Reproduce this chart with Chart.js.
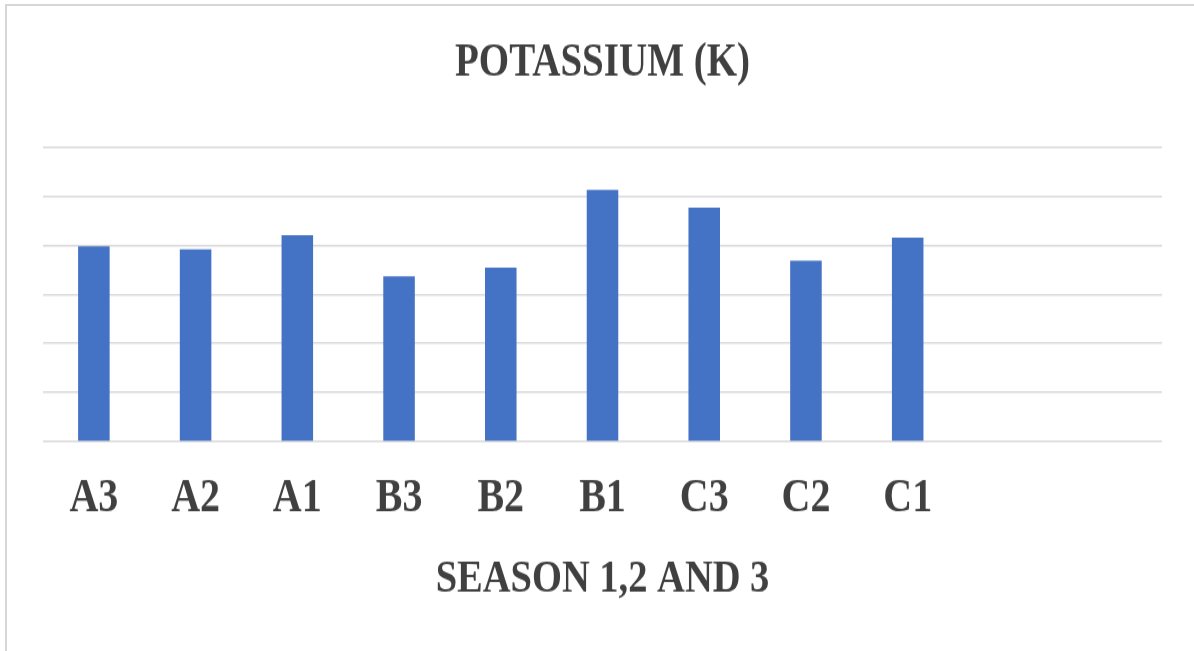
<!DOCTYPE html>
<html>
<head>
<meta charset="utf-8">
<title>Potassium (K)</title>
<script src="https://cdn.jsdelivr.net/npm/chart.js@4"></script>
<style>
  html, body { margin: 0; padding: 0; background: #fff; }
  #page { position: relative; width: 1194px; height: 651px; overflow: hidden; }
  #frame {
    position: absolute; left: 5px; top: 4px; width: 1200px; height: 660px;
    border-left: 2px solid #d6d6d6; border-top: 2px solid #d6d6d6;
  }
  /* the original picture is stretched vertically, so the chart is drawn squat and scaled */
  #wrap { position: absolute; left: 0; top: 0; width: 1194px; height: 543px;
          transform: scaleY(1.2); transform-origin: 0 0; }
</style>
</head>
<body>
<div id="page">
  <div id="frame"></div>
  <div id="wrap"><canvas id="kChart" width="1194" height="543"></canvas></div>
</div>
<script>
// categories (last two slots are empty in the original)
const categories = ["A3", "A2", "A1", "B3", "B2", "B1", "C3", "C2", "C1", "", ""];
// potassium values, read against the gridlines
const potassium = [3.98, 3.92, 4.21, 3.37, 3.55, 5.13, 4.77, 3.69, 4.16, null, null];
const yTicks = [0, 1, 2, 3, 4, 5, 6];

const textColor = "#404040";
const serif = "'Liberation Serif', 'Times New Roman', serif";

const ctx = document.getElementById("kChart").getContext("2d");

new Chart(ctx, {
  type: "bar",
  data: {
    labels: categories,
    datasets: [{
      label: "Potassium (K)",
      data: potassium,
      backgroundColor: "#4472C4",
      barPercentage: 0.31,
      categoryPercentage: 1
    }]
  },
  options: {
    responsive: false,
    animation: false,
    layout: { padding: { left: 43, right: 32, top: 0, bottom: 0 } },
    plugins: {
      legend: { display: false },
      tooltip: { enabled: false },
      title: {
        display: true,
        text: "POTASSIUM (K)",
        color: textColor,
        font: { family: serif, size: 39, weight: "bold" },
        padding: { top: 30, bottom: 46 }
      }
    },
    scales: {
      x: {
        grid: { display: false },
        border: { display: false },
        // keep the plot bottom where the original baseline is
        afterFit: (axis) => { axis.height = 175; },
        ticks: {
          color: textColor,
          font: { family: serif, size: 40, weight: "bold" },
          padding: 16,
          maxRotation: 0,
          autoSkip: false
        },
        title: {
          display: true,
          text: "SEASON 1,2 AND 3",
          color: textColor,
          font: { family: serif, size: 38.5, weight: "bold" },
          padding: { top: 10, bottom: 37 }
        }
      },
      y: {
        min: yTicks[0],
        max: yTicks[yTicks.length - 1],
        afterBuildTicks: (axis) => { axis.ticks = yTicks.map(v => ({ value: v })); },
        ticks: { display: false },
        border: { display: false },
        grid: { color: "#d9d9d9", lineWidth: 1.6, drawTicks: false }
      }
    }
  }
});
</script>
</body>
</html>
